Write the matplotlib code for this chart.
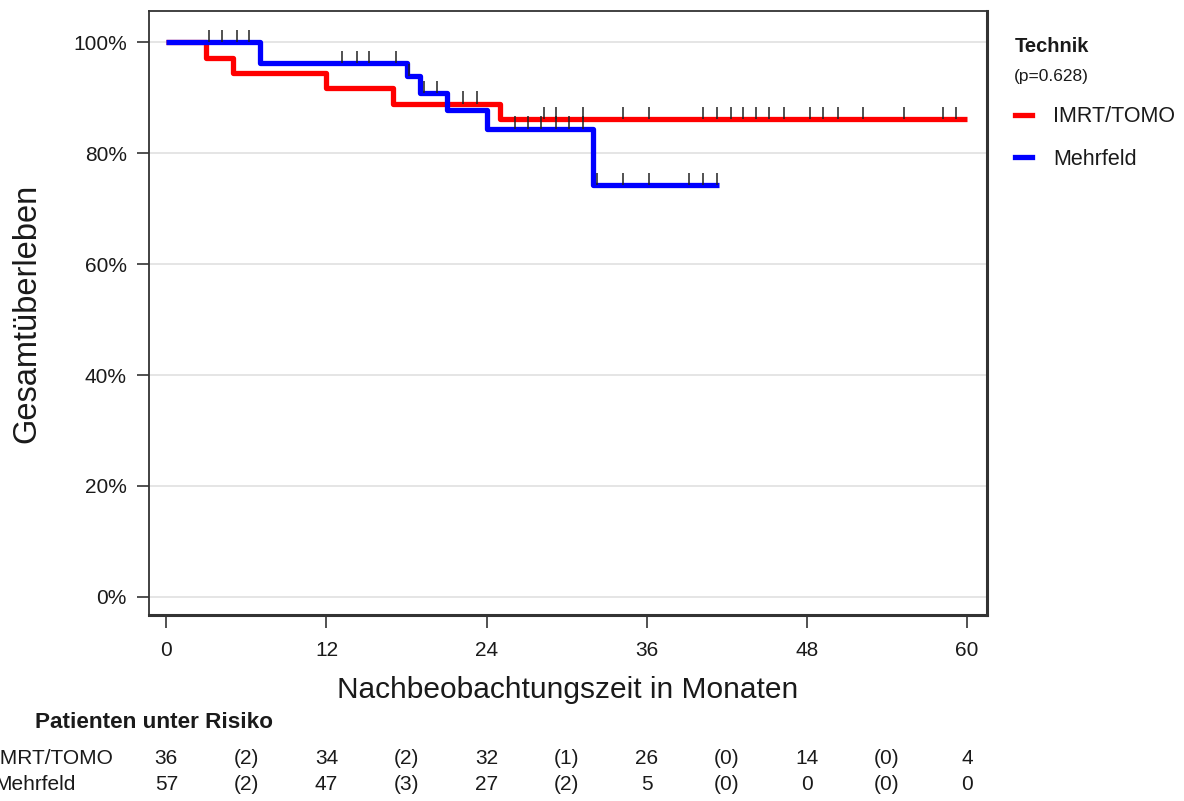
import numpy as np
import matplotlib
matplotlib.use("Agg")
import matplotlib.pyplot as plt
from matplotlib.lines import Line2D

plt.rcParams['font.family'] = ['Liberation Sans', 'DejaVu Sans']

# Kaplan-Meier Stufen (Monate, Überleben in %)
imrt_t = [0, 3, 5, 12, 17, 25, 60]
imrt_s = [100, 97.2, 94.4, 91.7, 88.9, 86.1, 86.1]
mehr_t = [0, 7, 18, 19, 21, 24, 32, 41.4]
mehr_s = [100, 96.2, 93.9, 90.8, 87.7, 84.4, 74.2, 74.2]

# zensierte Beobachtungen
imrt_cens = [22.2, 23.3, 28.3, 29.2, 31.2, 34.2, 36.2, 40.2, 41.3, 42.3, 43.2,
             44.2, 45.2, 46.3, 48.2, 49.2, 50.3, 52.2, 55.3, 58.2, 59.2]
mehr_cens = [3.2, 4.2, 5.3, 6.2, 13.2, 14.3, 15.2, 17.2, 18.2, 19.3, 20.3,
             26.1, 27.1, 28.1, 29.2, 30.2, 31.2, 32.3, 34.2, 36.2, 39.2, 40.2, 41.3]

# Patienten unter Risiko
risk_times = [0, 6, 12, 18, 24, 30, 36, 42, 48, 54, 60]
risk_imrt = ['36', '(2)', '34', '(2)', '32', '(1)', '26', '(0)', '14', '(0)', '4']
risk_mehr = ['57', '(2)', '47', '(3)', '27', '(2)', '5', '(0)', '0', '(0)', '0']

groups = ['IMRT/TOMO', 'Mehrfeld']
colors = ['#ff0000', '#0000ff']
txt = '#1a1a1a'


def level_at(times, surv, x):
    idx = np.searchsorted(times, x, side='right') - 1
    return np.array(surv)[idx]


fig = plt.figure(figsize=(11.84, 8.01), dpi=100)
ax = fig.add_axes([149 / 1184, 1 - 615 / 801, (987 - 149) / 1184, (615 - 11) / 801])

ax.plot(imrt_t, imrt_s, drawstyle='steps-post', color=colors[0], lw=3.8,
        solid_capstyle='butt', zorder=3, label=groups[0])
ax.plot(mehr_t, mehr_s, drawstyle='steps-post', color=colors[1], lw=3.8,
        solid_capstyle='butt', zorder=4, label=groups[1])

# Zensierungsstriche (vom Kurvenniveau nach oben)
for t, s, c in [(imrt_t, imrt_s, imrt_cens), (mehr_t, mehr_s, mehr_cens)]:
    lv = level_at(t, s, c)
    ax.vlines(c, lv, lv + 2.2, color='#222222', lw=1.1, zorder=5)

ax.set_xlim(-1.3, 61.5)
ax.set_ylim(-3.25, 105.6)
ax.set_xticks(range(0, 61, 12))
ax.set_yticks(range(0, 101, 20))
ax.set_yticklabels([f'{v}%' for v in range(0, 101, 20)])
ax.grid(axis='y', color='#e0e0e0', lw=1.2)
ax.set_axisbelow(True)
ax.tick_params(length=9, width=1.2, color='#333333', labelsize=15,
               labelcolor=txt)
ax.tick_params(axis='x', pad=10)
ax.tick_params(axis='y', pad=7)
for sp in ax.spines.values():
    sp.set_color('#333333')
    sp.set_linewidth(1.3)
ax.spines['bottom'].set_linewidth(2.2)
ax.spines['right'].set_linewidth(2.2)

ax.set_xlabel('Nachbeobachtungszeit in Monaten', fontsize=21.5, color=txt, labelpad=11)
ax.set_ylabel('Gesamtüberleben', fontsize=23.5, color=txt, labelpad=22)

# Legende
fig.text(1015 / 1184, 1 - 47 / 801, 'Technik', fontsize=14.5, fontweight='bold',
         color=txt, va='center')
fig.text(1014 / 1184, 1 - 77 / 801, '(p=0.628)', fontsize=12.5, color=txt, va='center')
handles = [Line2D([], [], color=c, lw=3.8) for c in colors]
fig.legend(handles, groups, loc='upper left', bbox_to_anchor=(996 / 1184, 1 - 87 / 801),
           frameon=False, fontsize=15.5, handlelength=0.75, handletextpad=1.0,
           labelspacing=1.0, labelcolor=txt)

# Risikotabelle
trans = matplotlib.transforms.blended_transform_factory(ax.transData, fig.transFigure)
fig.text(35 / 1184, 1 - 722 / 801, 'Patienten unter Risiko', fontsize=16.2,
         fontweight='bold', color=txt, va='center')
for row, (name, vals) in enumerate(zip(groups, [risk_imrt, risk_mehr])):
    y = 1 - (759 + 25 * row) / 801
    fig.text(-6 / 1184, y, name, fontsize=15, color=txt, va='center')
    for t, v in zip(risk_times, vals):
        ax.text(t, y, v, transform=trans, fontsize=15, color=txt,
                ha='center', va='center')

fig.savefig('out.png', dpi=100)
